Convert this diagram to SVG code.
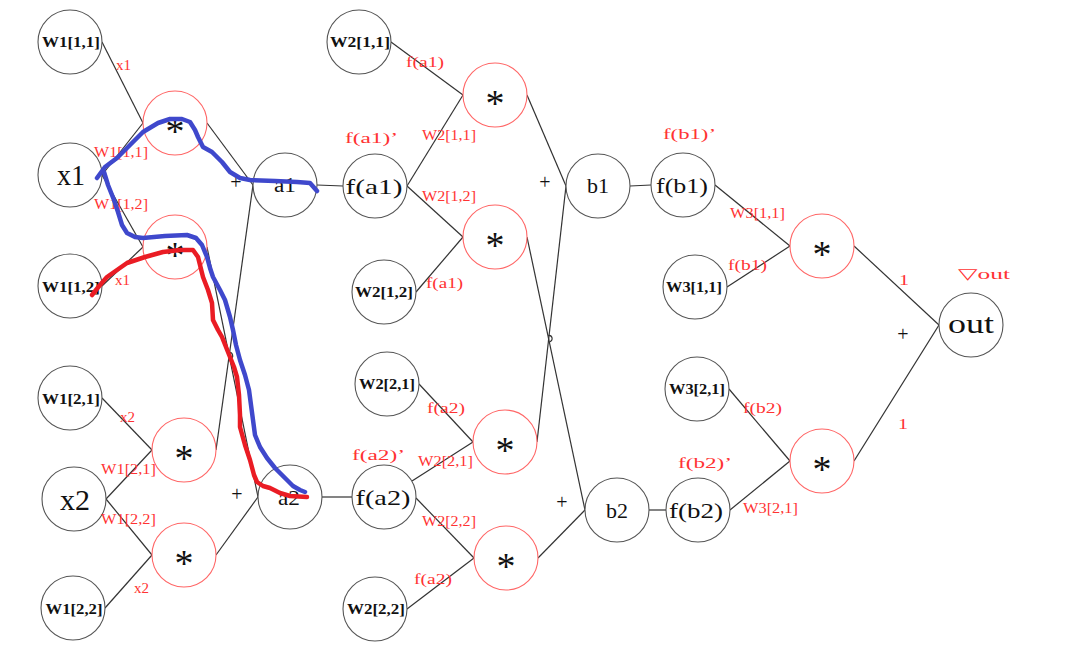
<svg xmlns="http://www.w3.org/2000/svg" width="1067" height="657" viewBox="0 0 1067 657">
<style>
.n{fill:#fff;stroke:#555;stroke-width:1.1}
.m{fill:#fff;stroke:#f66;stroke-width:1.1}
#connectors line,#connectors path{stroke:#333;stroke-width:1.2;fill:none}
text{font-family:"Liberation Serif","DejaVu Serif",serif;fill:#111}
.w{font-size:15px;font-weight:bold;text-anchor:middle}
.big{text-anchor:middle}
.ast{font-size:38px;text-anchor:middle}
.pl{font-size:20px;text-anchor:middle}
.r{fill:#f33;font-size:15px}
.s{fill:none;stroke-width:4.5;stroke-linecap:round;stroke-linejoin:round}
</style>
<rect width="1067" height="657" fill="#fff"/>
<g id="connectors">
<line x1="102" y1="42" x2="143" y2="123"/>
<line x1="102" y1="175" x2="143" y2="123"/>
<line x1="102" y1="175" x2="143" y2="247"/>
<line x1="102" y1="286" x2="143" y2="247"/>
<line x1="207" y1="123" x2="253" y2="185"/>
<line x1="207" y1="247" x2="258" y2="497"/>
<line x1="216" y1="450" x2="253" y2="185"/>
<path d="M228.6 352.5 A3 3 0 0 1 230.2 358.8"/>
<line x1="216" y1="555" x2="258" y2="497"/>
<line x1="102" y1="398" x2="152" y2="450"/>
<line x1="106" y1="499" x2="152" y2="450"/>
<line x1="106" y1="499" x2="152" y2="555"/>
<line x1="105" y1="608" x2="152" y2="555"/>
<line x1="317" y1="185" x2="343" y2="186"/>
<line x1="322" y1="497" x2="352" y2="497"/>
<line x1="391" y1="42" x2="463" y2="95"/>
<line x1="407" y1="186" x2="463" y2="95"/>
<line x1="407" y1="186" x2="463" y2="237"/>
<line x1="416" y1="292" x2="463" y2="237"/>
<line x1="527" y1="95" x2="566" y2="186"/>
<line x1="527" y1="237" x2="585" y2="510"/>
<line x1="537" y1="442" x2="566" y2="186"/>
<path d="M548.2 335.5 A3 3 0 0 1 549.6 341.8"/>
<line x1="538" y1="558" x2="585" y2="510"/>
<line x1="419" y1="384" x2="473" y2="442"/>
<line x1="412" y1="481" x2="473" y2="442"/>
<line x1="416" y1="498" x2="474" y2="558"/>
<line x1="407" y1="609" x2="474" y2="558"/>
<line x1="630" y1="186" x2="651" y2="185"/>
<line x1="649" y1="510" x2="666" y2="510"/>
<line x1="715" y1="185" x2="790" y2="246"/>
<line x1="727" y1="287" x2="790" y2="246"/>
<line x1="729" y1="389" x2="790" y2="461"/>
<line x1="730" y1="510" x2="790" y2="461"/>
<line x1="854" y1="246" x2="939" y2="325"/>
<line x1="854" y1="461" x2="939" y2="325"/>
</g>
<g id="W1_11"><circle class="n" cx="70" cy="42" r="32"/><text class="w" x="71" y="47" textLength="58" lengthAdjust="spacingAndGlyphs">W1[1,1]</text></g>
<g id="x1"><circle class="n" cx="70" cy="175" r="32"/><text class="big" x="71" y="185" font-size="30" textLength="28" lengthAdjust="spacingAndGlyphs">x1</text></g>
<g id="W1_12"><circle class="n" cx="70" cy="286" r="32"/><text class="w" x="71" y="292" textLength="58" lengthAdjust="spacingAndGlyphs">W1[1,2]</text></g>
<g id="W1_21"><circle class="n" cx="70" cy="398" r="32"/><text class="w" x="71" y="404" textLength="58" lengthAdjust="spacingAndGlyphs">W1[2,1]</text></g>
<g id="x2"><circle class="n" cx="74" cy="499" r="32"/><text class="big" x="75" y="510" font-size="30" textLength="30" lengthAdjust="spacingAndGlyphs">x2</text></g>
<g id="W1_22"><circle class="n" cx="73" cy="608" r="32"/><text class="w" x="74" y="614" textLength="57" lengthAdjust="spacingAndGlyphs">W1[2,2]</text></g>
<g id="mul1"><circle class="m" cx="175" cy="123" r="32"/><text class="ast" x="175" y="144">*</text></g>
<g id="mul2"><circle class="m" cx="175" cy="247" r="32"/><text class="ast" x="175" y="268">*</text></g>
<g id="mul3"><circle class="m" cx="184" cy="450" r="32"/><text class="ast" x="184" y="471">*</text></g>
<g id="mul4"><circle class="m" cx="184" cy="555" r="32"/><text class="ast" x="184" y="576">*</text></g>
<g id="a1"><circle class="n" cx="285" cy="185" r="32"/><text class="big" x="285" y="192" font-size="20" textLength="22" lengthAdjust="spacingAndGlyphs">a1</text></g>
<g id="a2"><circle class="n" cx="290" cy="497" r="32"/><text class="big" x="289" y="505" font-size="22" textLength="22" lengthAdjust="spacingAndGlyphs">a2</text></g>
<g id="fa1"><circle class="n" cx="375" cy="186" r="32"/><text class="big" x="374" y="194" font-size="22" textLength="57" lengthAdjust="spacingAndGlyphs">f(a1)</text></g>
<g id="fa2"><circle class="n" cx="384" cy="497" r="32"/><text class="big" x="383" y="505" font-size="22" textLength="55" lengthAdjust="spacingAndGlyphs">f(a2)</text></g>
<g id="W2_11"><circle class="n" cx="359" cy="42" r="32"/><text class="w" x="360" y="47" textLength="60" lengthAdjust="spacingAndGlyphs">W2[1,1]</text></g>
<g id="W2_12"><circle class="n" cx="384" cy="292" r="32"/><text class="w" x="384" y="297" textLength="58" lengthAdjust="spacingAndGlyphs">W2[1,2]</text></g>
<g id="W2_21"><circle class="n" cx="387" cy="384" r="32"/><text class="w" x="387" y="389" textLength="56" lengthAdjust="spacingAndGlyphs">W2[2,1]</text></g>
<g id="W2_22"><circle class="n" cx="375" cy="609" r="32"/><text class="w" x="376" y="614" textLength="58" lengthAdjust="spacingAndGlyphs">W2[2,2]</text></g>
<g id="mul5"><circle class="m" cx="495" cy="95" r="32"/><text class="ast" x="495" y="116">*</text></g>
<g id="mul6"><circle class="m" cx="495" cy="237" r="32"/><text class="ast" x="495" y="258">*</text></g>
<g id="mul7"><circle class="m" cx="505" cy="442" r="32"/><text class="ast" x="505" y="463">*</text></g>
<g id="mul8"><circle class="m" cx="506" cy="558" r="32"/><text class="ast" x="506" y="579">*</text></g>
<g id="b1"><circle class="n" cx="598" cy="186" r="32"/><text class="big" x="598" y="193" font-size="20" textLength="22" lengthAdjust="spacingAndGlyphs">b1</text></g>
<g id="b2"><circle class="n" cx="617" cy="510" r="32"/><text class="big" x="617" y="518" font-size="20" textLength="22" lengthAdjust="spacingAndGlyphs">b2</text></g>
<g id="fb1"><circle class="n" cx="683" cy="185" r="32"/><text class="big" x="682" y="193" font-size="22" textLength="52" lengthAdjust="spacingAndGlyphs">f(b1)</text></g>
<g id="fb2"><circle class="n" cx="698" cy="510" r="32"/><text class="big" x="696" y="518" font-size="22" textLength="54" lengthAdjust="spacingAndGlyphs">f(b2)</text></g>
<g id="W3_11"><circle class="n" cx="695" cy="287" r="32"/><text class="w" x="694" y="292" textLength="56" lengthAdjust="spacingAndGlyphs">W3[1,1]</text></g>
<g id="W3_21"><circle class="n" cx="697" cy="389" r="32"/><text class="w" x="697" y="394" textLength="56" lengthAdjust="spacingAndGlyphs">W3[2,1]</text></g>
<g id="mul9"><circle class="m" cx="822" cy="246" r="32"/><text class="ast" x="822" y="267">*</text></g>
<g id="mul10"><circle class="m" cx="822" cy="461" r="32"/><text class="ast" x="822" y="482">*</text></g>
<g id="out"><circle class="n" cx="971" cy="325" r="32"/><text class="big" x="971" y="333" font-size="28" textLength="46" lengthAdjust="spacingAndGlyphs">out</text></g>
<g id="ops">
<text class="pl" x="236" y="189">+</text>
<text class="pl" x="237" y="501">+</text>
<text class="pl" x="545" y="189">+</text>
<text class="pl" x="562" y="509">+</text>
<text class="pl" x="903" y="341">+</text>
</g>
<g id="labels">
<text class="r" x="116" y="70" textLength="15" lengthAdjust="spacingAndGlyphs">x1</text>
<text class="r" x="94" y="157" textLength="54" lengthAdjust="spacingAndGlyphs">W1[1,1]</text>
<text class="r" x="94" y="209" textLength="54" lengthAdjust="spacingAndGlyphs">W1[1,2]</text>
<text class="r" x="115" y="285" textLength="15" lengthAdjust="spacingAndGlyphs">x1</text>
<text class="r" x="120" y="422" textLength="15" lengthAdjust="spacingAndGlyphs">x2</text>
<text class="r" x="101" y="474" textLength="55" lengthAdjust="spacingAndGlyphs">W1[2,1]</text>
<text class="r" x="101" y="524" textLength="55" lengthAdjust="spacingAndGlyphs">W1[2,2]</text>
<text class="r" x="134" y="593" textLength="15" lengthAdjust="spacingAndGlyphs">x2</text>
<text class="r" x="406" y="67" textLength="38" lengthAdjust="spacingAndGlyphs">f(a1)</text>
<text class="r" x="345" y="143" textLength="53" lengthAdjust="spacingAndGlyphs">f(a1)’</text>
<text class="r" x="422" y="140" textLength="54" lengthAdjust="spacingAndGlyphs">W2[1,1]</text>
<text class="r" x="422" y="201" textLength="54" lengthAdjust="spacingAndGlyphs">W2[1,2]</text>
<text class="r" x="426" y="288" textLength="37" lengthAdjust="spacingAndGlyphs">f(a1)</text>
<text class="r" x="427" y="413" textLength="38" lengthAdjust="spacingAndGlyphs">f(a2)</text>
<text class="r" x="352" y="460" textLength="53" lengthAdjust="spacingAndGlyphs">f(a2)’</text>
<text class="r" x="418" y="466" textLength="55" lengthAdjust="spacingAndGlyphs">W2[2,1]</text>
<text class="r" x="422" y="526" textLength="54" lengthAdjust="spacingAndGlyphs">W2[2,2]</text>
<text class="r" x="414" y="584" textLength="38" lengthAdjust="spacingAndGlyphs">f(a2)</text>
<text class="r" x="663" y="139" textLength="53" lengthAdjust="spacingAndGlyphs">f(b1)’</text>
<text class="r" x="730" y="218" textLength="55" lengthAdjust="spacingAndGlyphs">W3[1,1]</text>
<text class="r" x="728" y="270" textLength="39" lengthAdjust="spacingAndGlyphs">f(b1)</text>
<text class="r" x="743" y="413" textLength="39" lengthAdjust="spacingAndGlyphs">f(b2)</text>
<text class="r" x="678" y="468" textLength="54" lengthAdjust="spacingAndGlyphs">f(b2)’</text>
<text class="r" x="743" y="513" textLength="55" lengthAdjust="spacingAndGlyphs">W3[2,1]</text>
<text class="r" x="899" y="285" font-size="20" textLength="10" lengthAdjust="spacingAndGlyphs">1</text>
<text class="r" x="898" y="429" font-size="20" textLength="10" lengthAdjust="spacingAndGlyphs">1</text>
<text class="r" x="958" y="279" font-size="20" textLength="52" lengthAdjust="spacingAndGlyphs">▽out</text>
</g>
<g id="strokes">
<polyline class="s" stroke="#3f48cc" points="97,178 105,167 117,158 130,145 143,132 158,123 170,119 182,119 190,122 195,130 198,137 203,147 212,152 222,162 230,172 240,178 250,180 275,181 297,182 310,183 317,191"/>
<polyline class="s" stroke="#3f48cc" points="104,172 108,185 114,200 118,212 122,225 127,233 135,237 143,238 165,236 187,235 196,238 202,245 207,257 210,268 213,277 220,290 225,300 230,317 233,330 236,345 240,360 245,375 249,390 251,405 253,420 255,435 260,447 267,458 275,468 285,478 293,486 300,490 305,492"/>
<polyline class="s" stroke="#ea1c24" points="92,295 100,285 107,277 117,270 127,263 145,257 163,252 180,250 193,250 198,257 200,265 203,277 208,290 212,303 213,320 218,330 222,337 226,347 230,357 234,367 237,377 239,395 240,415 240,427 245,445 250,460 254,475 257,482 263,486 270,488 280,493 290,496 307,497"/>
</g>
</svg>
